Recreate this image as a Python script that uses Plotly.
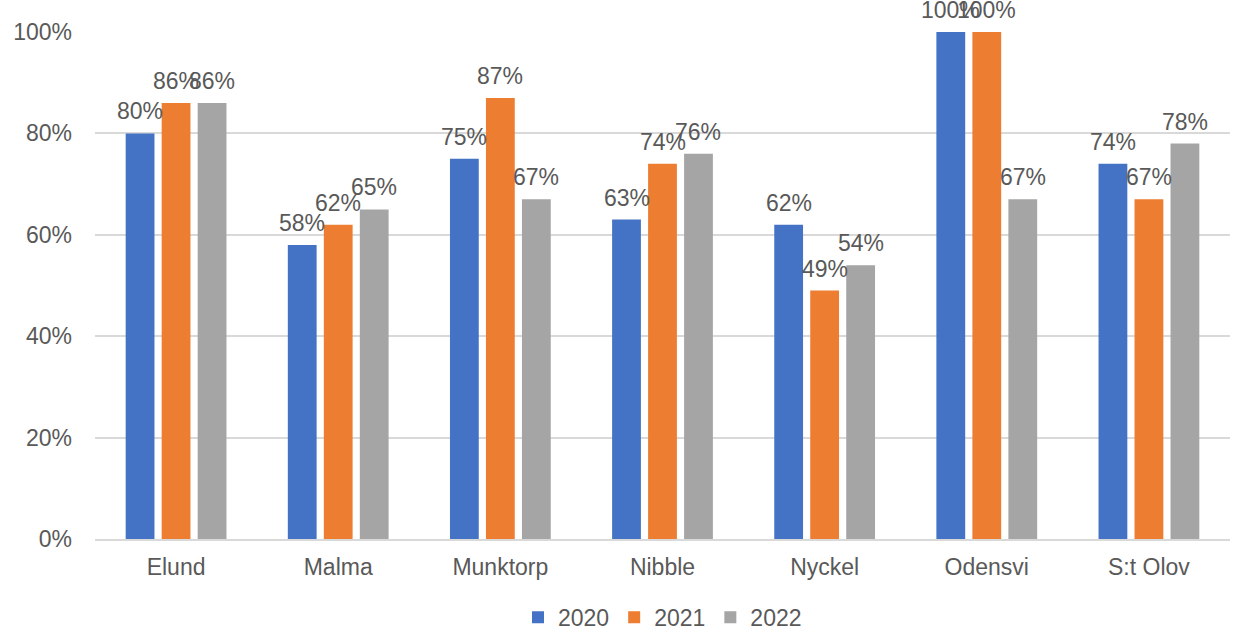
import plotly.graph_objects as go

categories = ["Elund", "Malma", "Munktorp", "Nibble", "Nyckel", "Odensvi", "S:t Olov"]
years = ["2020", "2021", "2022"]
values_2020 = [0.80, 0.58, 0.75, 0.63, 0.62, 1.00, 0.74]
values_2021 = [0.86, 0.62, 0.87, 0.74, 0.49, 1.00, 0.67]
values_2022 = [0.86, 0.65, 0.67, 0.76, 0.54, 0.67, 0.78]
colors = ["#4472C4", "#ED7D31", "#A5A5A5"]

font_family = "Liberation Sans, Arial, sans-serif"
text_color = "#595959"
fs = 23

W, H = 1237, 631
ml, mr, mt, mb = 95, 7, 32, 92
bargap, bargroupgap = 0.334, 0.2
cat_px = (W - ml - mr) / len(categories)
slot_px = cat_px * (1 - bargap) / len(years)

fig = go.Figure()
series = [values_2020, values_2021, values_2022]
for i, (name, vals, col) in enumerate(zip(years, series, colors)):
    fig.add_trace(go.Bar(
        x=categories, y=vals, name=name,
        marker=dict(color=col, line=dict(width=0)),
        cliponaxis=False,
    ))
    for c, v in zip(categories, vals):
        fig.add_annotation(
            x=c, y=v, xref="x", yref="y", text=f"{round(v*100)}%",
            showarrow=False, xanchor="center", yanchor="bottom",
            xshift=(i - 1) * slot_px, yshift=7,
            font=dict(family=font_family, size=fs, color=text_color),
        )

fig.update_layout(
    width=W, height=H,
    margin=dict(l=ml, r=mr, t=mt, b=mb, autoexpand=False),
    paper_bgcolor="white", plot_bgcolor="white",
    barmode="group", bargap=bargap, bargroupgap=bargroupgap,
    font=dict(family=font_family, size=fs, color=text_color),
    showlegend=True,
    legend=dict(orientation="h", x=0.5, xanchor="center", y=-0.112, yanchor="top",
                font=dict(size=fs, color=text_color), itemwidth=30, traceorder="normal"),
    xaxis=dict(showgrid=False, showline=True, linecolor="#d9d9d9", linewidth=1.5,
               ticks="", ticklabelstandoff=7, tickfont=dict(size=fs, color=text_color)),
    yaxis=dict(range=[0, 1], tickvals=[0, 0.2, 0.4, 0.6, 0.8, 1.0], tickformat=".0%",
               showgrid=True, gridcolor="#d9d9d9", gridwidth=1.5, zeroline=False,
               showline=False, ticks="", ticklen=0, ticklabelstandoff=22,
               tickfont=dict(size=fs, color=text_color)),
)

fig.write_html("out.html", config={"displayModeBar": False},
               post_script="document.body.style.margin='0';")
